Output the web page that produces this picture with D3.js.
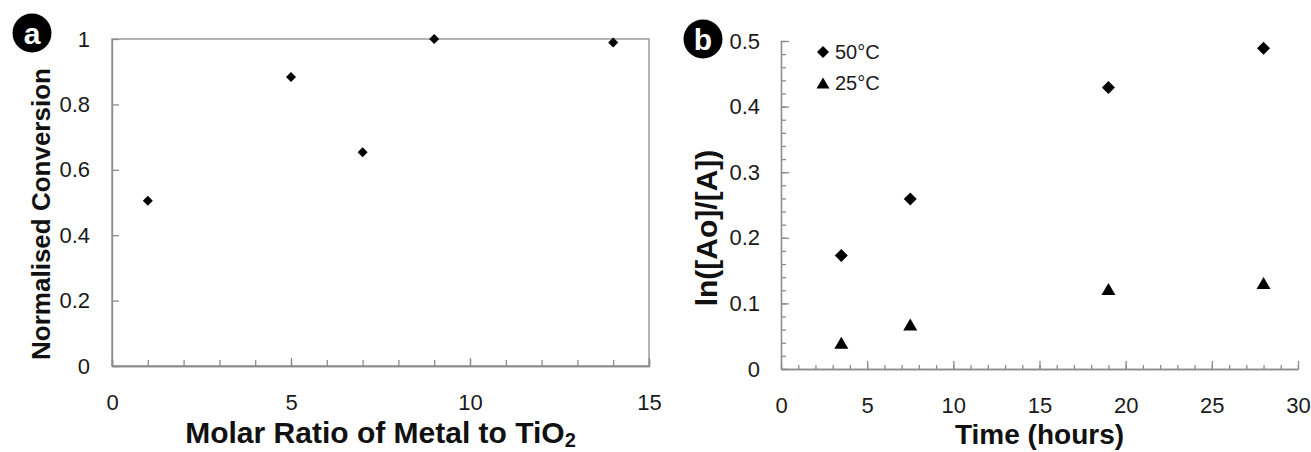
<!DOCTYPE html>
<html>
<head>
<meta charset="utf-8">
<script src="https://cdn.jsdelivr.net/npm/d3@7"></script>
<style>
  body { margin: 0; background: #fff; }
  svg { display: block; font-family: "Liberation Sans", Arial, sans-serif; }
  .tick text { fill: #1a1a1a; }
</style>
</head>
<body>
<div id="chart"></div>
<script>

// Panel a data: molar ratio vs normalised conversion
var ratioValues = [1, 5, 7, 9, 14];
var conversionValues = [0.505, 0.884, 0.654, 1.0, 0.989];

// Panel b data: time vs ln([Ao]/[A])
var timeValues = [3.5, 7.5, 19, 28];
var ln50Values = [0.173, 0.259, 0.429, 0.489];
var ln25Values = [0.040, 0.068, 0.122, 0.131];
var seriesNames = ["50\u00B0C", "25\u00B0C"];

// Tick labels
var ratioTicks = [0, 5, 10, 15];
var conversionTicks = [0, 0.2, 0.4, 0.6, 0.8, 1];
var timeTicks = [0, 5, 10, 15, 20, 25, 30];
var lnTicks = [0, 0.1, 0.2, 0.3, 0.4, 0.5];


var width = 1311, height = 452;
var axisColor = "#8c8c8c";

var svg = d3.select("#chart").append("svg")
    .attr("width", width)
    .attr("height", height);

// Marker shapes
function diamond(r) {
    return "M0," + (-r) + "L" + r + ",0L0," + r + "L" + (-r) + ",0Z";
}
function triangle(w, h) {
    return "M0," + (-h / 2) + "L" + (w / 2) + "," + (h / 2) + "L" + (-w / 2) + "," + (h / 2) + "Z";
}

function styleAxis(g) {
    g.selectAll("line").attr("stroke", axisColor).attr("stroke-width", 1.3);
    g.selectAll("path").attr("stroke", axisColor).attr("stroke-width", 1.3);
    g.selectAll("text").style("font-size", "22px").attr("fill", "#1a1a1a");
}

function panelBadge(cx, cy, letter) {
    svg.append("circle")
        .attr("cx", cx)
        .attr("cy", cy)
        .attr("r", 19.5)
        .attr("fill", "#000");
    svg.append("text")
        .attr("x", cx)
        .attr("y", cy)
        .attr("dy", "0.36em")
        .attr("text-anchor", "middle")
        .attr("fill", "#fff")
        .style("font-size", "30px")
        .style("font-weight", "bold")
        .text(letter);
}


// ---------- Panel a ----------
var a = {left: 112, right: 649, top: 39, bottom: 366};

var xA = d3.scaleLinear().domain([0, 15]).range([a.left, a.right]);
var yA = d3.scaleLinear().domain([0, 1]).range([a.bottom, a.top]);

// frame
svg.append("rect")
    .attr("x", a.left)
    .attr("y", a.top)
    .attr("width", a.right - a.left)
    .attr("height", a.bottom - a.top)
    .attr("fill", "none")
    .attr("stroke", axisColor)
    .attr("stroke-width", 1.3);

// minor x ticks
svg.append("g")
    .attr("transform", "translate(0," + a.bottom + ")")
    .call(d3.axisBottom(xA).tickValues(d3.range(0, 16)).tickSize(-6).tickFormat(""))
    .call(styleAxis);

svg.append("g")
    .attr("transform", "translate(0," + a.bottom + ")")
    .call(d3.axisBottom(xA).tickValues(ratioTicks).tickSize(-8).tickSizeOuter(0).tickPadding(28))
    .call(styleAxis);

svg.append("g")
    .attr("transform", "translate(" + a.left + ",0)")
    .call(d3.axisLeft(yA).tickValues(conversionTicks).tickSize(-7).tickSizeOuter(0).tickPadding(22)
        .tickFormat(d3.format("~g")))
    .call(styleAxis);

svg.append("g").selectAll("path")
    .data(ratioValues)
    .enter()
    .append("path")
    .attr("d", diamond(5))
    .attr("transform", function(d, i) { return "translate(" + xA(d) + "," + yA(conversionValues[i]) + ")"; })
    .attr("fill", "#000");

// axis titles
svg.append("text")
    .attr("transform", "translate(50,214) rotate(-90)")
    .attr("text-anchor", "middle")
    .style("font-size", "26px")
    .style("font-weight", "bold")
    .attr("fill", "#111")
    .text("Normalised Conversion");

var xTitleA = svg.append("text")
    .attr("x", (a.left + a.right) / 2)
    .attr("y", 443)
    .attr("text-anchor", "middle")
    .style("font-size", "30px")
    .style("font-weight", "bold")
    .attr("fill", "#111");
xTitleA.append("tspan").text("Molar Ratio of Metal to TiO");
xTitleA.append("tspan").attr("dy", 4).style("font-size", "20px").text("2");

panelBadge(32, 33, "a");


// ---------- Panel b ----------
var b = {left: 781, right: 1298, top: 41, bottom: 369};

var xB = d3.scaleLinear().domain([0, 30]).range([b.left, b.right]);
var yB = d3.scaleLinear().domain([0, 0.5]).range([b.bottom, b.top]);

// minor ticks
svg.append("g")
    .attr("transform", "translate(0," + b.bottom + ")")
    .call(d3.axisBottom(xB).tickValues(d3.range(0, 31)).tickSize(-4).tickFormat("").tickSizeOuter(0))
    .call(styleAxis);

svg.append("g")
    .attr("transform", "translate(" + b.left + ",0)")
    .call(d3.axisLeft(yB).tickValues(d3.range(0, 26).map(function(i) { return i * 0.02; }))
        .tickSize(-5).tickFormat("").tickSizeOuter(0))
    .call(styleAxis);

// major ticks + labels
svg.append("g")
    .attr("transform", "translate(0," + b.bottom + ")")
    .call(d3.axisBottom(xB).tickValues(timeTicks).tickSize(-8).tickSizeOuter(0).tickPadding(28))
    .call(styleAxis);

svg.append("g")
    .attr("transform", "translate(" + b.left + ",0)")
    .call(d3.axisLeft(yB).tickValues(lnTicks).tickSize(-8).tickSizeOuter(0).tickPadding(21)
        .tickFormat(d3.format("~g")))
    .call(styleAxis);

svg.append("g").selectAll("path")
    .data(timeValues)
    .enter()
    .append("path")
    .attr("d", diamond(6.5))
    .attr("transform", function(d, i) { return "translate(" + xB(d) + "," + yB(ln50Values[i]) + ")"; })
    .attr("fill", "#000");

svg.append("g").selectAll("path")
    .data(timeValues)
    .enter()
    .append("path")
    .attr("d", triangle(14, 12))
    .attr("transform", function(d, i) { return "translate(" + xB(d) + "," + yB(ln25Values[i]) + ")"; })
    .attr("fill", "#000");

// legend
var legend = svg.append("g")
    .attr("transform", "translate(" + (b.left + 42) + "," + (b.top + 11) + ")");

var legendItems = legend.selectAll("g")
    .data(seriesNames)
    .enter()
    .append("g")
    .attr("transform", function(d, i) { return "translate(0," + (i * 31) + ")"; });

legendItems.append("path")
    .attr("d", function(d, i) { return i === 0 ? diamond(6) : triangle(13, 11); })
    .attr("fill", "#000");

legendItems.append("text")
    .attr("x", 12)
    .attr("dy", "0.36em")
    .style("font-size", "20px")
    .attr("fill", "#1a1a1a")
    .text(function(d) { return d; });

// axis titles
svg.append("text")
    .attr("transform", "translate(717,228) rotate(-90)")
    .attr("text-anchor", "middle")
    .style("font-size", "30px")
    .style("font-weight", "bold")
    .attr("fill", "#111")
    .text("ln([Ao]/[A])");

svg.append("text")
    .attr("x", (b.left + b.right) / 2)
    .attr("y", 444)
    .attr("text-anchor", "middle")
    .style("font-size", "28px")
    .style("font-weight", "bold")
    .attr("fill", "#111")
    .text("Time (hours)");

panelBadge(703, 39, "b");

</script>
</body>
</html>
